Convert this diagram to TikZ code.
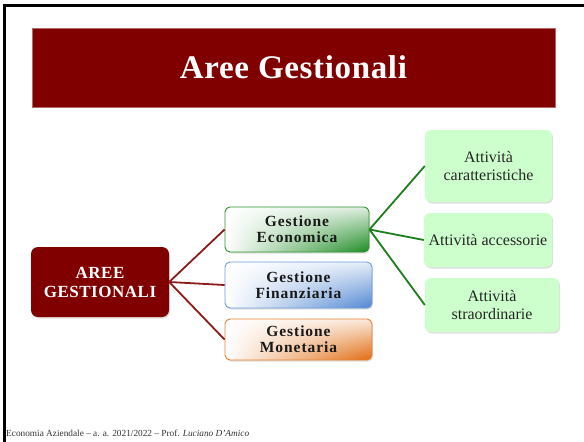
\documentclass[tikz,border=0pt]{standalone}
\usepackage{fontspec}
\setmainfont{Liberation Serif}
\newfontfamily\titlefont[LetterSpace=2]{Liberation Serif}
\newfontfamily\areefont[LetterSpace=3]{Liberation Serif}
\newfontfamily\gestfont[LetterSpace=6]{Liberation Serif}
\usetikzlibrary{shadows,shadings}
\definecolor{maroon}{HTML}{800000}
\definecolor{redline}{HTML}{8A1C1C}
\definecolor{greenline}{HTML}{1E7E1E}
\definecolor{ecoborder}{HTML}{2E952E}
\definecolor{ecofill}{HTML}{1C8A22}
\definecolor{finborder}{HTML}{6D9BDA}
\definecolor{finfill}{HTML}{4F86D2}
\definecolor{monborder}{HTML}{E8802F}
\definecolor{monfill}{HTML}{E06A0E}
\definecolor{lightgreen}{HTML}{CCFFCC}
\tikzset{
  softshadow/.style={drop shadow={opacity=0.25, shadow xshift=1pt, shadow yshift=-1.5pt}},
  titlebox/.style={fill=maroon, draw=maroon!60, line width=0.4pt, text=white, font=\titlefont\bfseries\fontsize{33}{38}\selectfont, inner sep=0pt},
  areebox/.style={fill=maroon, rounded corners=7pt, softshadow, text=white, align=center,
     font=\areefont\bfseries\fontsize{17}{19}\selectfont, inner sep=0pt},
  gestbox/.style={rounded corners=5pt, line width=0.9pt, softshadow, align=center,
     font=\gestfont\bfseries\fontsize{15.5}{16}\selectfont, text=black!90, inner sep=0pt},
  actbox/.style={fill=lightgreen, rounded corners=6pt, softshadow, align=center,
     font=\fontsize{16}{18}\selectfont, text=black!85, inner sep=0pt},
  redconn/.style={draw=redline, line width=1.8pt},
  greenconn/.style={draw=greenline, line width=1.8pt},
}
\begin{document}
\begin{tikzpicture}[x=1pt,y=-1pt]
\useasboundingbox (0,0) rectangle (584,442);
\fill[white] (0,0) rectangle (584,442);
\draw[line width=3pt] (4,442) -- (4,5.5) -- (584,5.5);

\node[titlebox, minimum width=523pt, minimum height=79pt] (title) at (293.5,67.5) {Aree Gestionali};

\node[areebox, minimum width=138pt, minimum height=70pt] (aree) at (100,282) {AREE\\GESTIONALI};

\node[gestbox, draw=ecoborder, upper left=white, upper right=ecofill!15, lower left=white, lower right=ecofill,
      minimum width=144pt, minimum height=45pt] (eco) at (297,229.5) {Gestione\\Economica};
\node[gestbox, draw=finborder, upper left=white, upper right=finfill!15, lower left=white, lower right=finfill,
      minimum width=147pt, minimum height=46pt] (fin) at (298.5,285) {Gestione\\Finanziaria};
\node[gestbox, draw=monborder, upper left=white, upper right=monfill!15, lower left=white, lower right=monfill,
      minimum width=147pt, minimum height=41pt] (mon) at (298.5,339.5) {Gestione\\Monetaria};

\node[actbox, minimum width=127pt, minimum height=72pt] (car) at (488.5,166) {Attività\\caratteristiche};
\node[actbox, minimum width=128pt, minimum height=54pt] (acc) at (488,240) {Attività accessorie};
\node[actbox, minimum width=134pt, minimum height=54pt] (str) at (492,305) {Attività\\straordinarie};

\draw[redconn] (aree.east) -- (eco.west);
\draw[redconn] (aree.east) -- (fin.west);
\draw[redconn] (aree.east) -- (mon.west);
\draw[greenconn] (eco.east) -- (car.west);
\draw[greenconn] (eco.east) -- (acc.west);
\draw[greenconn] (eco.east) -- (str.west);

\node[anchor=base west, inner sep=0pt, font=\fontsize{9.3}{11}\selectfont, text=black!80] (foot) at (6,436)
  {Economia Aziendale – a. a. 2021/2022 – Prof. \textit{Luciano D’Amico}};
\end{tikzpicture}
\end{document}
